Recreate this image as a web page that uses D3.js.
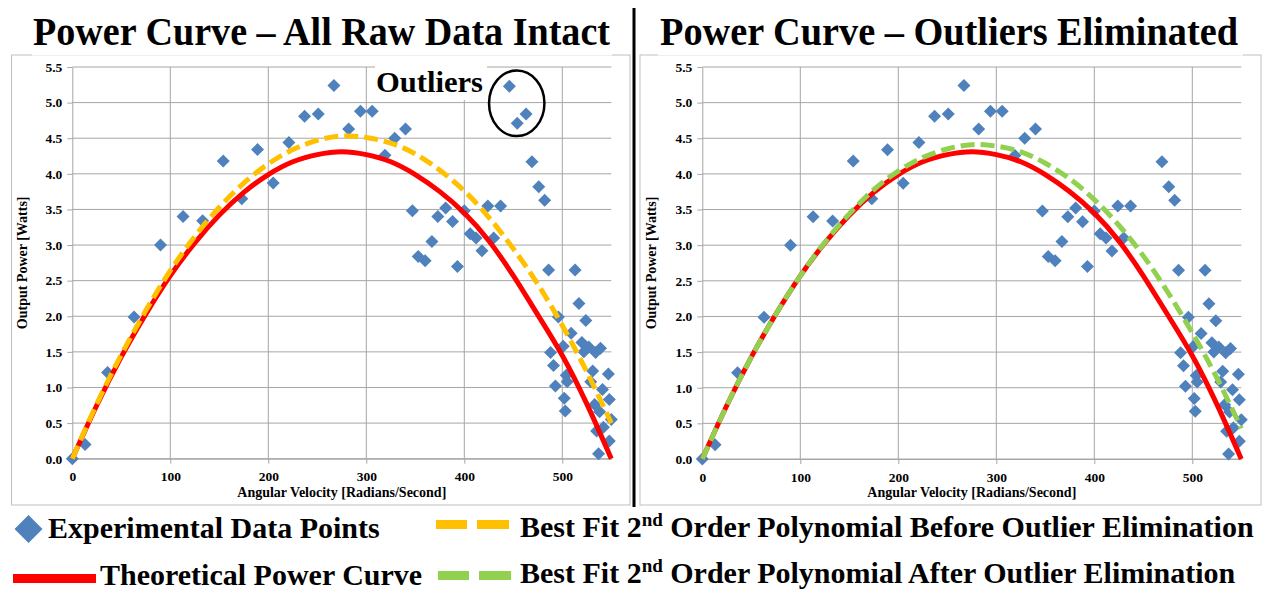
<!DOCTYPE html>
<html>
<head>
<meta charset="utf-8">
<script src="https://cdn.jsdelivr.net/npm/d3@7"></script>
<style>
  html, body { margin: 0; padding: 0; background: #fff; }
  svg { display: block; }
  svg text { font-family: "Liberation Serif", "Times New Roman", serif; font-weight: bold; }
</style>
</head>
<body>
<svg id="chart" width="1274" height="590"></svg>
<script>
// Measured points (angular velocity rad/s, power W) kept after cleaning
const pointsX = [0, 13, 36, 63, 90, 113, 133, 154, 173, 189, 205, 221, 237, 251, 267, 282, 294, 306, 319, 329,
  340, 347, 353, 360, 367, 373, 381, 388, 393, 400, 406, 412, 418, 424, 430, 437, 469, 476, 482, 486,
  513, 517, 524, 496, 509, 520, 527, 522, 534, 539, 501, 488, 491, 504, 505, 493, 531, 529, 547, 541,
  548, 533, 502, 503, 538, 550, 542, 535, 548, 537];
const pointsY = [0.0, 0.20, 1.21, 1.99, 3.00, 3.40, 3.34, 4.18, 3.65, 4.34, 3.87, 4.44, 4.81, 4.84, 5.24, 4.63, 4.88, 4.88, 4.26, 4.50,
  4.63, 3.48, 2.84, 2.78, 3.05, 3.40, 3.52, 3.33, 2.70, 3.48, 3.16, 3.10, 2.92, 3.55, 3.10, 3.55, 4.17, 3.82, 3.63, 2.65,
  2.65, 2.18, 1.94, 1.99, 1.76, 1.63, 1.57, 1.50, 1.49, 1.55, 1.58, 1.49, 1.31, 1.17, 1.08, 1.02, 1.23, 1.08, 1.19, 0.97,
  0.83, 0.76, 0.85, 0.67, 0.66, 0.55, 0.44, 0.39, 0.25, 0.07];

// The three circled outliers
const outlierX = [446, 454, 463];
const outlierY = [5.23, 4.71, 4.84];

// Curves at regular speeds
const curveX = [0, 25, 50, 75, 100, 125, 150, 175, 200, 225, 250, 275, 300, 325, 350, 375, 400, 425, 450, 475, 500, 525, 550];
const theoryY = [0, 0.75, 1.43, 2.03, 2.57, 3.03, 3.42, 3.74, 3.99, 4.17, 4.27, 4.31, 4.27, 4.17, 3.99, 3.75, 3.45, 3.06, 2.57, 2.02, 1.45, 0.77, 0];
const fitBeforeY = [0, 0.77, 1.46, 2.08, 2.64, 3.12, 3.53, 3.87, 4.14, 4.34, 4.47, 4.53, 4.51, 4.43, 4.28, 4.05, 3.76, 3.39, 2.95, 2.45, 1.87, 1.22, 0.50];
const fitAfterY = [0, 0.75, 1.43, 2.03, 2.57, 3.04, 3.44, 3.78, 4.04, 4.23, 4.35, 4.41, 4.39, 4.31, 4.15, 3.93, 3.64, 3.28, 2.85, 2.34, 1.77, 1.14, 0.43];

const xTicks = [0, 100, 200, 300, 400, 500];
const yTicks = [0, 0.5, 1, 1.5, 2, 2.5, 3, 3.5, 4, 4.5, 5, 5.5];

const BLUE = '#4F81BD', RED = '#FF0000', GOLD = '#FFC000', GREEN = '#92D050', GRID = '#a6a6a6';
const SERIF = '"Liberation Serif", "Times New Roman", serif';

const svg = d3.select('#chart');

const panels = [
  { box: [11.5, 55, 630, 505], plot: [72.3, 611.3, 67, 458.7], cover: [32, 612],
    title: 'Power Curve \u2013 All Raw Data Intact', titleX: [33, 610], ylabX: 22,
    fitY: fitBeforeY, fitColor: GOLD, withOutliers: true },
  { box: [640, 55, 1261, 505], plot: [702.3, 1241.3, 67, 459], cover: [658, 1243],
    title: 'Power Curve \u2013 Outliers Eliminated', titleX: [660, 1238], ylabX: 651,
    fitY: fitAfterY, fitColor: GREEN, withOutliers: false },
];

function diamond(r) { return `M0,${-r}L${r},0L0,${r}L${-r},0Z`; }

function drawPanel(p) {
  const g = svg.append('g');
  g.append('rect')
    .attr('x', p.box[0]).attr('y', p.box[1])
    .attr('width', p.box[2] - p.box[0]).attr('height', p.box[3] - p.box[1])
    .attr('fill', '#fff').attr('stroke', '#bfbfbf').attr('stroke-width', 1);

  const x = d3.scaleLinear().domain([0, 550]).range([p.plot[0], p.plot[1]]);
  const y = d3.scaleLinear().domain([0, 5.5]).range([p.plot[3], p.plot[2]]);

  // gridlines
  g.append('g').selectAll('line').data(yTicks).join('line')
    .attr('x1', x(0)).attr('x2', x(550))
    .attr('y1', d => y(d)).attr('y2', d => y(d))
    .attr('stroke', GRID).attr('stroke-width', 1);
  g.append('g').selectAll('line').data(xTicks.filter(d => d > 0)).join('line')
    .attr('x1', d => x(d)).attr('x2', d => x(d))
    .attr('y1', y(0)).attr('y2', y(5.5))
    .attr('stroke', GRID).attr('stroke-width', 1);

  // axes
  const ax = g.append('g').attr('transform', `translate(0,${y(0)})`)
    .call(d3.axisBottom(x).tickValues(xTicks).tickFormat(d3.format('d')).tickSize(5).tickPadding(8).tickSizeOuter(0));
  const ay = g.append('g').attr('transform', `translate(${x(0)},0)`)
    .call(d3.axisLeft(y).tickValues(yTicks).tickFormat(d3.format('.1f')).tickSize(5).tickPadding(5).tickSizeOuter(0));
  [ax, ay].forEach(a => {
    a.attr('font-family', SERIF).attr('font-size', null);
    a.selectAll('path, line').attr('stroke', GRID);
    a.selectAll('text').attr('fill', '#000')
      .style('font-family', SERIF).style('font-weight', 'bold').style('font-size', '13.5px');
  });

  // axis titles
  g.append('text')
    .attr('x', (x(0) + x(550)) / 2).attr('y', 497)
    .attr('text-anchor', 'middle').style('font-size', '14px')
    .text('Angular Velocity [Radians/Second]');
  g.append('text')
    .attr('transform', `translate(${p.ylabX + 5},${(y(0) + y(5.5)) / 2}) rotate(-90)`)
    .attr('text-anchor', 'middle').style('font-size', '14px')
    .text('Output Power [Watts]');

  // data points
  const allX = p.withOutliers ? pointsX.concat(outlierX) : pointsX;
  const allY = p.withOutliers ? pointsY.concat(outlierY) : pointsY;
  g.append('g').selectAll('path').data(allX).join('path')
    .attr('d', diamond(6.5))
    .attr('transform', (d, i) => `translate(${x(d)},${y(allY[i])})`)
    .attr('fill', BLUE);

  const line = d3.line()
    .x((d, i) => x(curveX[i]))
    .y(d => y(d))
    .curve(d3.curveNatural);

  g.append('path').datum(theoryY)
    .attr('d', line).attr('fill', 'none')
    .attr('stroke', RED).attr('stroke-width', 5);
  g.append('path').datum(p.fitY)
    .attr('d', line).attr('fill', 'none')
    .attr('stroke', p.fitColor).attr('stroke-width', 5)
    .attr('stroke-dasharray', '14,6');

  // title on a white band over the frame
  g.append('rect')
    .attr('x', p.cover[0]).attr('y', 6)
    .attr('width', p.cover[1] - p.cover[0]).attr('height', 49.5)
    .attr('fill', '#fff');
  g.append('text')
    .attr('x', p.titleX[0]).attr('y', 45)
    .attr('textLength', p.titleX[1] - p.titleX[0]).attr('lengthAdjust', 'spacingAndGlyphs')
    .style('font-size', '40px')
    .text(p.title);

  if (p.withOutliers) {
    g.append('rect').attr('x', 375).attr('y', 56).attr('width', 112).attr('height', 44).attr('fill', '#fff');
    g.append('text')
      .attr('x', 376).attr('y', 92)
      .attr('textLength', 107).attr('lengthAdjust', 'spacingAndGlyphs')
      .style('font-size', '30px')
      .text('Outliers');
    g.append('ellipse')
      .attr('cx', x(453.5)).attr('cy', y(4.99))
      .attr('rx', 27.7).attr('ry', 32.8)
      .attr('fill', 'none').attr('stroke', '#000').attr('stroke-width', 2.5);
  }
}

panels.forEach(drawPanel);

// divider between the two panels
svg.append('line')
  .attr('x1', 634).attr('x2', 634).attr('y1', 8).attr('y2', 507)
  .attr('stroke', '#000').attr('stroke-width', 3);

// legend
svg.append('defs').append('clipPath').attr('id', 'legclip')
  .append('rect').attr('x', 0).attr('y', 505).attr('width', 1262).attr('height', 90);
const leg = svg.append('g').attr('clip-path', 'url(#legclip)');

leg.append('path').attr('d', diamond(14)).attr('transform', 'translate(28.5,529)').attr('fill', BLUE);
leg.append('text').attr('x', 48).attr('y', 538).style('font-size', '30px').text('Experimental Data Points');

leg.append('rect').attr('x', 13).attr('y', 574).attr('width', 83).attr('height', 9).attr('fill', RED);
leg.append('text').attr('x', 100).attr('y', 585).style('font-size', '30px').text('Theoretical Power Curve');

const fitLegend = [
  { color: GOLD, x0: 436, y: 520, ty: 537, label: 'Before Outlier Elimination' },
  { color: GREEN, x0: 438, y: 571, ty: 583, label: 'After Outlier Elimination' },
];
fitLegend.forEach(f => {
  leg.append('rect').attr('x', f.x0).attr('y', f.y).attr('width', 31).attr('height', 9).attr('fill', f.color);
  leg.append('rect').attr('x', f.x0 + 41).attr('y', f.y).attr('width', 32).attr('height', 9).attr('fill', f.color);
  const t = leg.append('text').attr('x', 520).attr('y', f.ty).style('font-size', '30px');
  t.append('tspan').text('Best Fit 2');
  t.append('tspan').attr('dy', -11).style('font-size', '19px').text('nd');
  t.append('tspan').attr('dy', 11).text(' Order Polynomial ' + f.label);
});
</script>
</body>
</html>
